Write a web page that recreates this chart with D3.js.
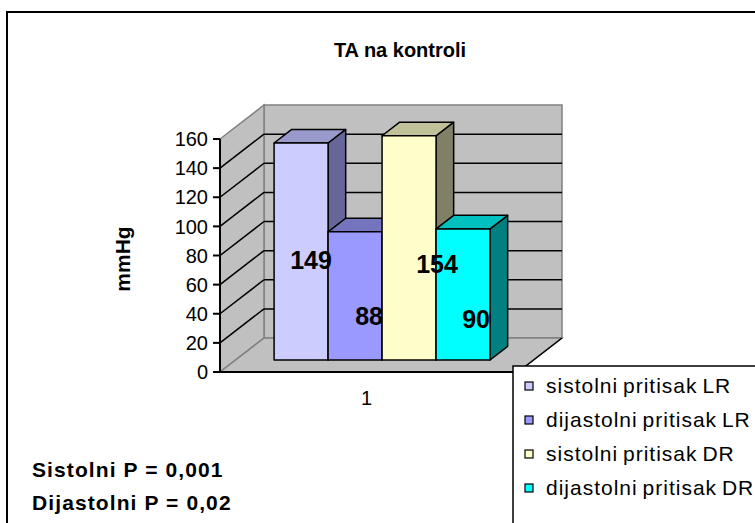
<!DOCTYPE html>
<html><head><meta charset="utf-8">
<script src="https://cdn.jsdelivr.net/npm/d3@7"></script>
<style>body{margin:0;background:#fff}svg{display:block}text{font-family:"Liberation Sans",Arial,sans-serif}</style>
</head><body>
<svg id="c" width="755" height="523"></svg>
<script>
// ---- data ----
const categories = ["1"];
const seriesNames = ["sistolni pritisak LR", "dijastolni pritisak LR", "sistolni pritisak DR", "dijastolni pritisak DR"];
const seriesValues = [149, 88, 154, 90];
const yTicks = [0, 20, 40, 60, 80, 100, 120, 140, 160];
const titleText = "TA na kontroli";
const yTitleText = "mmHg";
const notes = ["Sistolni P = 0,001", "Dijastolni P = 0,02"];

// ---- style ----
const frontCol = ["#CCCCFF", "#9999FF", "#FFFFCC", "#00FFFF"];
const topCol   = ["#9999CC", "#7575BD", "#C0C099", "#00C0C0"];
const sideCol  = ["#666699", "#4D4D80", "#808066", "#008080"];
const labelDx = [10, 14, 28, 13];
const labelDy = [8, 20, 16, 25];

const svg = d3.select("#c");
const ox = 220, oy = 372, Dx = 44, Dy = -34;
const y = d3.scaleLinear().domain([0, 160]).range([0, 233]);
const x = d3.scaleBand().domain(categories).range([220, 518]).paddingInner(0).paddingOuter(0.19).align(0.47);
const xs = d3.scaleBand().domain(seriesNames).range([0, x.bandwidth()]);
const d0 = 0.353, d1 = 0.753;
const P = (xf, v, d) => [xf + Dx * d, oy - y(v) + Dy * d];
const poly = pts => "M" + pts.map(p => p.join(",")).join("L") + "Z";
const line = (a, b) => "M" + a.join(",") + "L" + b.join(",");
const xL = x.range()[0], xR = x.range()[1];
const yMax = yTicks[yTicks.length - 1];

// outer frame
svg.append("rect").attr("x", 7).attr("y", 12).attr("width", 770).attr("height", 540)
  .attr("fill", "#fff").attr("stroke", "#000").attr("stroke-width", 2);

// title
svg.append("text").attr("x", 400).attr("y", 57).attr("text-anchor", "middle")
  .attr("font-size", 20).attr("font-weight", "bold").text(titleText);

// walls
const wallStyle = s => s.attr("fill", "#C0C0C0").attr("stroke", "#808080").attr("stroke-width", 1.5);
svg.append("path").attr("d", poly([P(xL, 0, 1), P(xR, 0, 1), P(xR, yMax, 1), P(xL, yMax, 1)])).call(wallStyle);
svg.append("path").attr("d", poly([P(xL, 0, 0), P(xL, 0, 1), P(xL, yMax, 1), P(xL, yMax, 0)])).call(wallStyle);
svg.append("path").attr("d", poly([P(xL, 0, 0), P(xR, 0, 0), P(xR, 0, 1), P(xL, 0, 1)])).call(wallStyle);

// gridlines
yTicks.filter(t => t > 0 && t < yMax).forEach(t => {
  svg.append("path").attr("d", line(P(xL, t, 0), P(xL, t, 1)) + line(P(xL, t, 1), P(xR, t, 1)))
    .attr("fill", "none").attr("stroke", "#000").attr("stroke-width", 1.5);
});
// floor right edge
svg.append("path").attr("d", line(P(xR, 0, 0), P(xR, 0, 1))).attr("stroke", "#000").attr("stroke-width", 1.5);

// axes
svg.append("path").attr("d", line(P(xL, 0, 0), P(xL, yMax, 0))).attr("stroke", "#000").attr("stroke-width", 2);
svg.append("path").attr("d", line(P(xL, 0, 0), P(xR, 0, 0))).attr("stroke", "#000").attr("stroke-width", 2);
yTicks.forEach(t => {
  const p = P(xL, t, 0);
  svg.append("path").attr("d", line([p[0] - 7, p[1]], p)).attr("stroke", "#000").attr("stroke-width", 2);
  svg.append("text").attr("x", p[0] - 12).attr("y", p[1]).attr("dy", "0.36em")
    .attr("text-anchor", "end").attr("font-size", 20).text(t);
});
categories.forEach(c => {
  svg.append("text").attr("x", x(c) + x.bandwidth() / 2).attr("y", 405).attr("text-anchor", "middle")
    .attr("font-size", 20).text(c);
});
svg.append("text").attr("transform", "translate(130,259) rotate(-90)").attr("text-anchor", "middle")
  .attr("font-size", 21).attr("font-weight", "bold").text(yTitleText);

// bars
const barStyle = s => s.attr("stroke", "#000").attr("stroke-width", 1.5).attr("stroke-linejoin", "round");
seriesNames.forEach((name, i) => {
  const v = seriesValues[i];
  const a = x(categories[0]) + xs(name), b = a + xs.bandwidth();
  const g = svg.append("g");
  g.append("path").attr("d", poly([P(b, 0, d0), P(b, 0, d1), P(b, v, d1), P(b, v, d0)])).attr("fill", sideCol[i]).call(barStyle);
  g.append("path").attr("d", poly([P(a, v, d0), P(b, v, d0), P(b, v, d1), P(a, v, d1)])).attr("fill", topCol[i]).call(barStyle);
  g.append("path").attr("d", poly([P(a, 0, d0), P(b, 0, d0), P(b, v, d0), P(a, v, d0)])).attr("fill", frontCol[i]).call(barStyle);
});
// data labels
seriesNames.forEach((name, i) => {
  const v = seriesValues[i];
  const a = x(categories[0]) + xs(name);
  const p = P(a + xs.bandwidth() / 2, v / 2, d0);
  svg.append("text").attr("x", p[0] + labelDx[i]).attr("y", p[1] + labelDy[i]).attr("dy", "0.36em")
    .attr("text-anchor", "middle").attr("font-size", 25).attr("font-weight", "bold").text(v);
});

// legend
svg.append("rect").attr("x", 513).attr("y", 366).attr("width", 300).attr("height", 200)
  .attr("fill", "#fff").attr("stroke", "#000").attr("stroke-width", 1.5);
seriesNames.forEach((name, i) => {
  const by = 393 + i * 34;
  svg.append("rect").attr("x", 525).attr("y", by - 11).attr("width", 8).attr("height", 8)
    .attr("fill", frontCol[i]).attr("stroke", "#000").attr("stroke-width", 1.2);
  svg.append("text").attr("x", 546).attr("y", by).attr("font-size", 21).attr("letter-spacing", 1)
    .attr("word-spacing", -2).text(name);
});

// notes
notes.forEach((n, i) => {
  svg.append("text").attr("x", 32).attr("y", 477 + i * 33).attr("font-size", 21)
    .attr("font-weight", "bold").attr("letter-spacing", 1.1).text(n);
});
</script>
</body></html>
